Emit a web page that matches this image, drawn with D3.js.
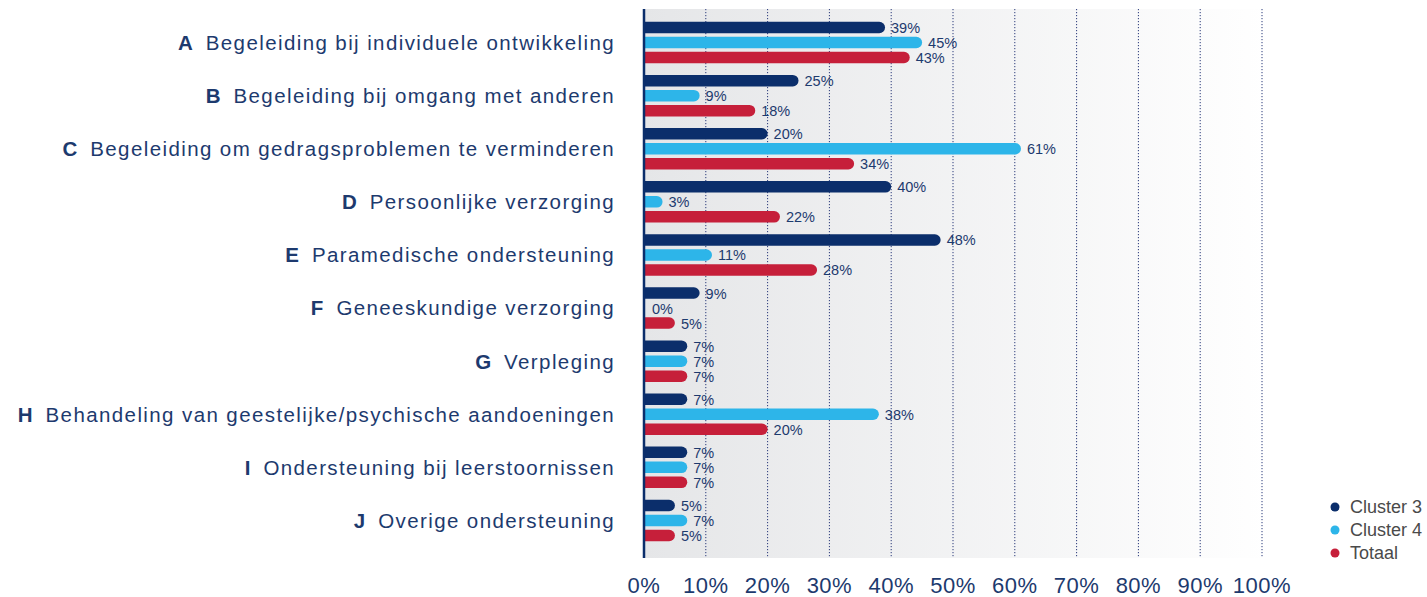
<!DOCTYPE html>
<html lang="nl">
<head>
    <meta charset="UTF-8">
    <title>Ondersteuning per cluster</title>
    <script src="https://d3js.org/d3.v7.min.js"></script>
    <style>
        * { margin: 0; padding: 0; box-sizing: border-box; }
        body { background: #ffffff; font-family: "Liberation Sans", Arial, sans-serif; overflow: hidden; }
        .cat { font-size: 20.5px; fill: #1d3a6e; letter-spacing: 1.4px; }
        .cat .letter { font-weight: bold; letter-spacing: 0; }
        .val { font-size: 14.5px; fill: #1d3a6e; }
        .tick-label { font-size: 22px; fill: #1d3a6e; letter-spacing: 0.5px; }
        .legend text { font-size: 18px; fill: #4a4a4a; }
        .grid line { stroke: #2a3a7a; stroke-width: 1; stroke-dasharray: 1.2, 1.8; }
    </style>
</head>
<body>
    <svg></svg>
    <script>
        // Daten
        const letters = ["A", "B", "C", "D", "E", "F", "G", "H", "I", "J"];
        const categories = [
            "Begeleiding bij individuele ontwikkeling",
            "Begeleiding bij omgang met anderen",
            "Begeleiding om gedragsproblemen te verminderen",
            "Persoonlijke verzorging",
            "Paramedische ondersteuning",
            "Geneeskundige verzorging",
            "Verpleging",
            "Behandeling van geestelijke/psychische aandoeningen",
            "Ondersteuning bij leerstoornissen",
            "Overige ondersteuning"
        ];
        const seriesNames = ["Cluster 3", "Cluster 4", "Totaal"];
        const cluster3 = [39, 25, 20, 40, 48, 9, 7, 7, 7, 5];
        const cluster4 = [45, 9, 61, 3, 11, 0, 7, 38, 7, 7];
        const totaal = [43, 18, 34, 22, 28, 5, 7, 20, 7, 5];
        const xTicks = [0, 10, 20, 30, 40, 50, 60, 70, 80, 90, 100];

        const colors = ["#0b2e6b", "#2db5e9", "#c61f3a"];
        const seriesValues = [cluster3, cluster4, totaal];

        const width = 1427, height = 597;
        const svg = d3.select("svg").attr("width", width).attr("height", height);

        const x = d3.scaleLinear().domain([0, 100]).range([644, 1262]);
        const y = d3.scaleBand().domain(letters).range([16, 547]);
        const ySub = d3.scaleBand().domain(seriesNames).range([-22.5, 22.5]);
        const barH = 11.5;
        const plotTop = 9, plotBottom = 558;

        // Hintergrund mit Verlauf
        const grad = svg.append("defs").append("linearGradient")
            .attr("id", "bg").attr("x1", "0").attr("x2", "1").attr("y1", "0").attr("y2", "0");
        grad.append("stop").attr("offset", "0%").attr("stop-color", "#e5e6e8");
        grad.append("stop").attr("offset", "100%").attr("stop-color", "#ffffff");

        svg.append("rect")
            .attr("x", x(0)).attr("y", plotTop)
            .attr("width", x(100) - x(0) + 10).attr("height", plotBottom - plotTop)
            .attr("fill", "url(#bg)");

        // Gitterlinien
        svg.append("g").attr("class", "grid")
            .selectAll("line")
            .data(xTicks.slice(1))
            .enter().append("line")
            .attr("x1", d => x(d)).attr("x2", d => x(d))
            .attr("y1", plotTop).attr("y2", plotBottom);

        // Balken
        const rows = letters.map((l, i) => ({ letter: l, name: categories[i], i }));
        const group = svg.append("g").selectAll("g")
            .data(rows)
            .enter().append("g")
            .attr("transform", d => `translate(0, ${y(d.letter) + y.bandwidth() / 2})`);

        seriesNames.forEach((s, si) => {
            const cy = ySub(s) + ySub.bandwidth() / 2;
            group.filter(d => seriesValues[si][d.i] > 0)
                .append("path")
                .attr("fill", colors[si])
                .attr("d", d => {
                    const x0 = x(0), x1 = x(seriesValues[si][d.i]);
                    const r = barH / 2, top = cy - r;
                    return `M${x0},${top} H${x1 - r} A${r},${r} 0 0 1 ${x1 - r},${top + barH} H${x0} Z`;
                });

            group.append("text")
                .attr("class", "val")
                .attr("x", d => x(seriesValues[si][d.i]) + (seriesValues[si][d.i] > 0 ? 6 : 8))
                .attr("y", cy)
                .attr("dy", "0.38em")
                .text(d => seriesValues[si][d.i] + "%");
        });

        // Kategorienbeschriftung
        const cat = group.append("text")
            .attr("class", "cat")
            .attr("x", 615)
            .attr("y", 0)
            .attr("dy", "0.36em")
            .attr("text-anchor", "end");
        cat.append("tspan").attr("class", "letter").text(d => d.letter);
        cat.append("tspan").attr("dx", 13).text(d => d.name);

        // Achse
        svg.append("line")
            .attr("x1", x(0)).attr("x2", x(0))
            .attr("y1", plotTop).attr("y2", plotBottom)
            .attr("stroke", "#0b2e6b").attr("stroke-width", 2.5);

        svg.append("g").selectAll("text")
            .data(xTicks)
            .enter().append("text")
            .attr("class", "tick-label")
            .attr("x", d => x(d))
            .attr("y", 593)
            .attr("text-anchor", "middle")
            .text(d => d + "%");

        // Legende
        const legend = svg.append("g").attr("class", "legend")
            .selectAll("g")
            .data(seriesNames)
            .enter().append("g")
            .attr("transform", (d, i) => `translate(1335, ${507 + i * 23})`);
        legend.append("circle").attr("r", 4.5).attr("fill", (d, i) => colors[i]);
        legend.append("text").attr("x", 15).attr("dy", "0.36em").text(d => d);
    </script>
</body>
</html>
